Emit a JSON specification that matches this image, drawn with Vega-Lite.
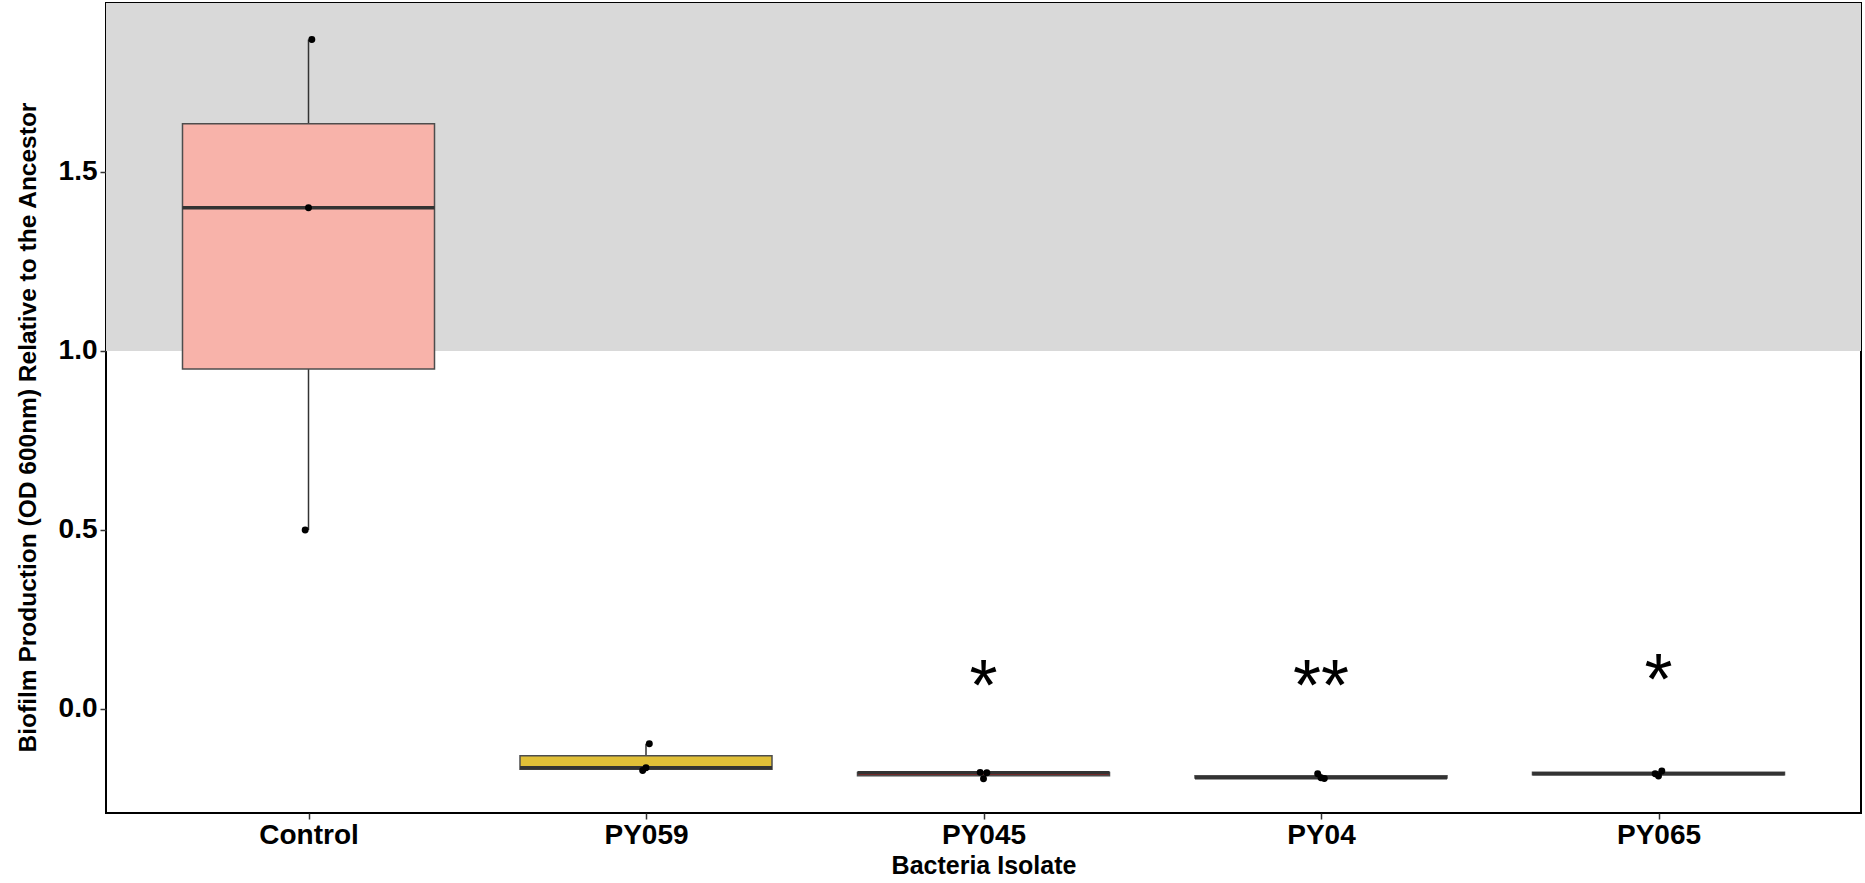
{
  "$schema": "https://vega.github.io/schema/vega-lite/v6.json",
  "autosize": {"type": "none"},
  "padding": {"left": 106, "top": 3, "right": 4, "bottom": 70},
  "width": 1755,
  "height": 810,
  "background": "white",
  "config": {
    "view": {"stroke": "black", "strokeWidth": 2},
    "font": "Liberation Sans"
  },
  "datasets": {
    "measurements": [
      {"isolate": "Control", "rep": 1, "od": 0.50},
      {"isolate": "Control", "rep": 2, "od": 1.40},
      {"isolate": "Control", "rep": 3, "od": 1.87},
      {"isolate": "PY059", "rep": 1, "od": -0.172},
      {"isolate": "PY059", "rep": 2, "od": -0.164},
      {"isolate": "PY059", "rep": 3, "od": -0.097},
      {"isolate": "PY045", "rep": 1, "od": -0.177},
      {"isolate": "PY045", "rep": 2, "od": -0.195},
      {"isolate": "PY045", "rep": 3, "od": -0.178},
      {"isolate": "PY04", "rep": 1, "od": -0.181},
      {"isolate": "PY04", "rep": 2, "od": -0.192},
      {"isolate": "PY04", "rep": 3, "od": -0.194},
      {"isolate": "PY065", "rep": 1, "od": -0.181},
      {"isolate": "PY065", "rep": 2, "od": -0.187},
      {"isolate": "PY065", "rep": 3, "od": -0.173}
    ],
    "significance": [
      {"isolate": "PY045", "stars": "*", "ypos": 0.058},
      {"isolate": "PY04", "stars": "**", "ypos": 0.058},
      {"isolate": "PY065", "stars": "*", "ypos": 0.076}
    ],
    "ancestorBand": [
      {"lo": 1.0, "hi": 1.972}
    ]
  },
  "layer": [
    {
      "data": {"name": "ancestorBand"},
      "mark": {"type": "rect", "color": "#D9D9D9"},
      "encoding": {
        "y": {"field": "lo", "type": "quantitative", "scale": {"domain": [-0.2905, 1.972], "nice": false, "zero": false}},
        "y2": {"field": "hi"}
      }
    },
    {
      "data": {"name": "measurements"},
      "mark": {
        "type": "boxplot",
        "extent": "min-max",
        "size": 252,
        "box": {"stroke": "#4D4D4D", "strokeWidth": 1.5, "opacity": 1},
        "median": {"color": "#333333", "thickness": 3.5, "opacity": 1},
        "rule": {"color": "#333333", "strokeWidth": 1.5, "opacity": 1},
        "outliers": false
      },
      "encoding": {
        "x": {
          "field": "isolate", "type": "nominal",
          "sort": ["Control", "PY059", "PY045", "PY04", "PY065"],
          "scale": {"type": "point", "padding": 0.6},
          "axis": {
            "title": "Bacteria Isolate",
            "titleFont": "Liberation Sans", "titleFontSize": 25, "titleFontWeight": "bold", "titleColor": "black",
            "titlePadding": 4,
            "labelFont": "Liberation Sans", "labelFontSize": 28, "labelFontWeight": "bold", "labelColor": "black",
            "labelPadding": 2, "labelAngle": 0,
            "domain": false, "tickColor": "#333333", "tickSize": 6, "tickWidth": 1.5
          }
        },
        "y": {
          "field": "od", "type": "quantitative",
          "axis": {
            "title": "Biofilm Production (OD 600nm) Relative to the Ancestor",
            "titleFont": "Liberation Sans", "titleFontSize": 24.5, "titleFontWeight": "bold", "titleColor": "black",
            "titleX": -78, "titleY": 424, "titleAngle": -90, "titleAlign": "center", "titleBaseline": "middle",
            "values": [0, 0.5, 1, 1.5], "format": ".1f",
            "labelFont": "Liberation Sans", "labelFontSize": 28, "labelFontWeight": "bold", "labelColor": "black",
            "labelPadding": 3,
            "grid": false, "domain": false, "tickColor": "#333333", "tickSize": 6, "tickWidth": 1.5
          }
        },
        "color": {
          "field": "isolate", "type": "nominal",
          "scale": {
            "domain": ["Control", "PY059", "PY045", "PY04", "PY065"],
            "range": ["#F8B3AA", "#E0BF37", "#B22222", "#2E5E3E", "#3A4A7A"]
          },
          "legend": null
        }
      }
    },
    {
      "data": {"name": "measurements"},
      "mark": {"type": "circle", "color": "black", "opacity": 1, "size": 48},
      "encoding": {
        "x": {"field": "isolate", "type": "nominal", "sort": ["Control", "PY059", "PY045", "PY04", "PY065"]},
        "xOffset": {"field": "rep", "type": "nominal", "scale": {"type": "point", "range": [-5, 5]}},
        "y": {"field": "od", "type": "quantitative"}
      }
    },
    {
      "data": {"name": "significance"},
      "mark": {"type": "text", "font": "Liberation Sans", "fontSize": 72, "color": "black", "baseline": "middle", "align": "center"},
      "encoding": {
        "x": {"field": "isolate", "type": "nominal", "sort": ["Control", "PY059", "PY045", "PY04", "PY065"]},
        "y": {"field": "ypos", "type": "quantitative"},
        "text": {"field": "stars"}
      }
    }
  ]
}
